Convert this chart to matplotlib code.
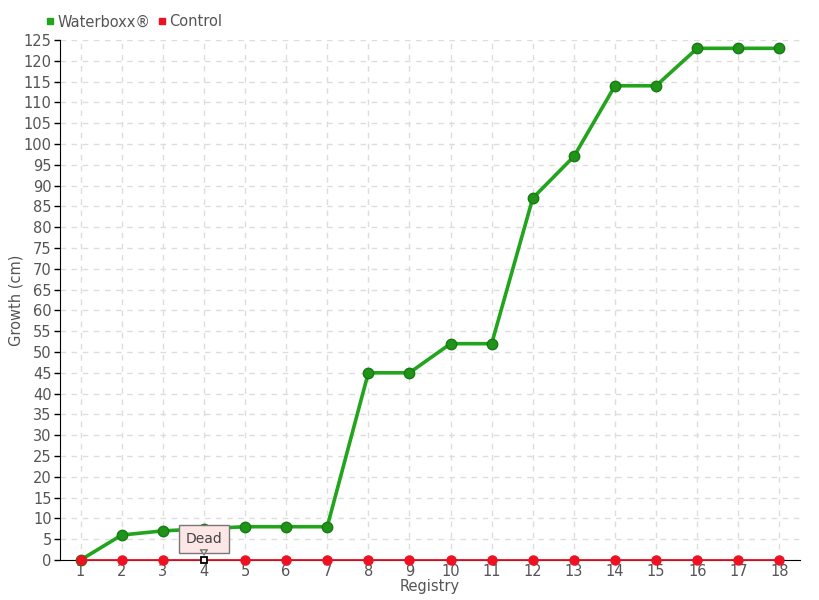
import numpy as np
import matplotlib
matplotlib.use('Agg')
import matplotlib.pyplot as plt
from matplotlib.lines import Line2D

registry = list(range(1, 19))
waterboxx = [0, 6, 7, 7.5, 8, 8, 8, 45, 45, 52, 52, 87, 97, 114, 114, 123, 123, 123]
control = [0] * 18
dead_idx = 3  # registry 4, hovered point

plt.rcParams['font.family'] = ['DejaVu Sans']
txt = '#555555'
green = '#22a51c'
red = '#ee1122'

fig = plt.figure(figsize=(8.2, 6), dpi=100)
ax = fig.add_axes([60/820, 40/600, 740/820, 520/600])

ax.plot(registry, waterboxx, color=green, lw=2.6, zorder=3, clip_on=False)
ax.plot(registry, waterboxx, 'o', ms=7.5, mfc='#1f9418', mec='#177a12', mew=1, zorder=4, clip_on=False)
ax.plot(registry, control, color='#e8101e', lw=1.3, zorder=5, clip_on=False)
cx = [r for i, r in enumerate(registry) if i != dead_idx]
cy = [v for i, v in enumerate(control) if i != dead_idx]
ax.plot(cx, cy, 'o', ms=6.5, mfc=red, mec=red, zorder=6, clip_on=False)
ax.plot(registry[dead_idx], control[dead_idx], 's', ms=5, mfc='white', mec='black',
        mew=1.3, zorder=7, clip_on=False)

# tooltip for the dead plant
ax.annotate('Dead', xy=(registry[dead_idx], control[dead_idx]), xytext=(0, 15),
            textcoords='offset points', ha='center', va='center', fontsize=10,
            color='#444444',
            bbox=dict(boxstyle='square,pad=0.5', fc='#fde6e6', ec='#777777', lw=1),
            zorder=8, annotation_clip=False)
ax.annotate('', xy=(registry[dead_idx], control[dead_idx]), xytext=(0, 5.2),
            textcoords='offset points', ha='center', va='center',
            arrowprops=dict(arrowstyle='-|>,head_length=0.35,head_width=0.25',
                            fc='#fde6e6', ec='#777777', lw=1, shrinkA=0, shrinkB=3),
            zorder=9, annotation_clip=False)

ax.set_xlim(0.5, 18.5)
ax.set_ylim(0, 125)
ax.set_xticks(registry)
ax.set_yticks(np.arange(0, 126, 5))
ax.grid(True, ls=(0, (4, 4)), color='#dddddd', lw=1)
ax.set_axisbelow(True)
for s in ['top', 'right']:
    ax.spines[s].set_visible(False)
ax.spines['left'].set_color('black')
ax.spines['bottom'].set_color('black')
ax.tick_params(axis='y', length=4, width=1, colors='black', labelcolor=txt, labelsize=10.5, pad=2)
ax.tick_params(axis='x', length=0, labelcolor=txt, labelsize=10.5, pad=3)
ax.set_xlabel('Registry', color=txt, fontsize=10.5, labelpad=0)
ax.set_ylabel('Growth (cm)', color=txt, fontsize=10.5)
ax.yaxis.set_label_coords(-36/740, 0.5)

handles = [Line2D([], [], ls='none', marker='s', ms=5, color=green),
           Line2D([], [], ls='none', marker='s', ms=5, color=red)]
fig.legend(handles, ['Waterboxx®', 'Control'], loc='center left',
           bbox_to_anchor=(46/820, 1 - 22/600), ncol=2, frameon=False,
           fontsize=10.5, labelcolor=txt, handlelength=0.6, handletextpad=0.2,
           columnspacing=0.5, borderpad=0, borderaxespad=0)

fig.savefig('out.png', dpi=100)
